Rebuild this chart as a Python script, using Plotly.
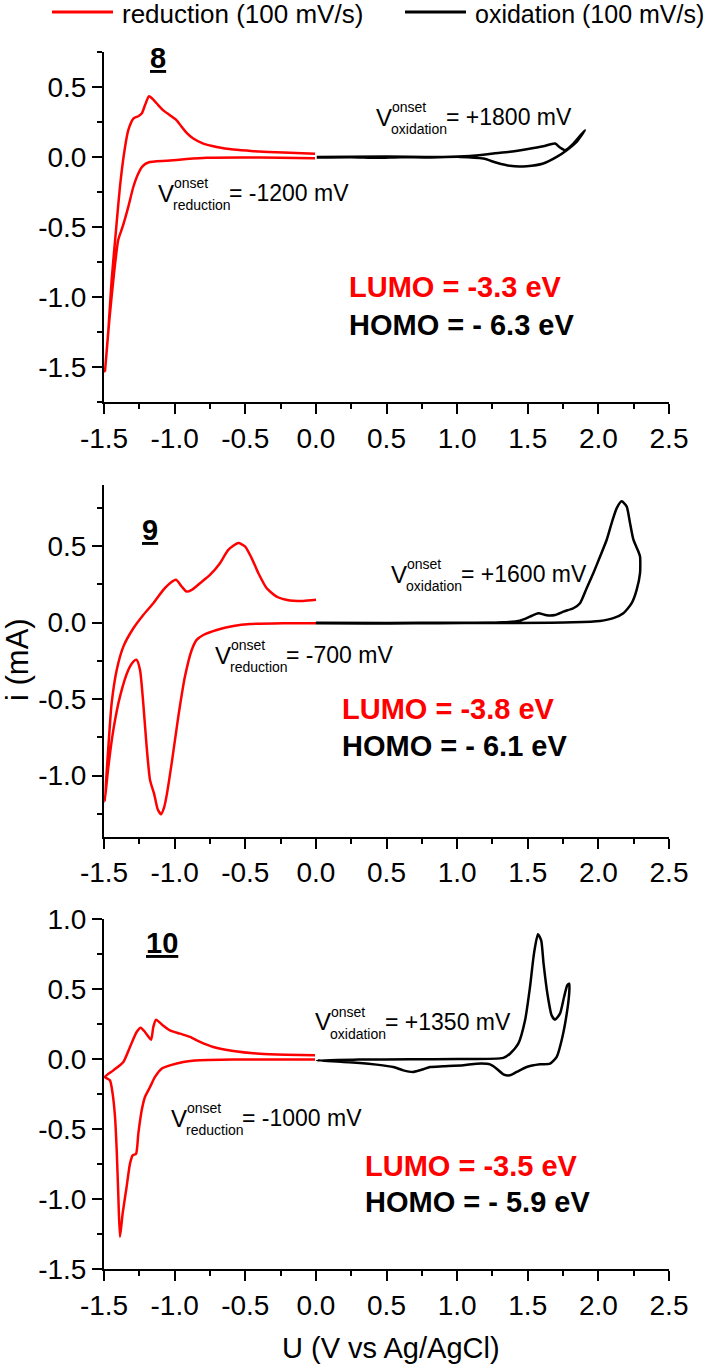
import plotly.graph_objects as go

W, H = 709, 1367
FONT = "Liberation Sans, Arial, sans-serif"

# ---- compound 8 ----
red8_u = [-0.006, -0.254, -0.537, -0.773, -0.915, -1.056, -1.186, -1.226, -1.257, -1.292, -1.328,
          -1.368, -1.399, -1.429, -1.462, -1.493,
          -1.469, -1.446, -1.415, -1.387, -1.358, -1.328, -1.292, -1.257, -1.233, -1.210, -1.181,
          -1.151, -1.115, -1.080, -1.033, -0.986, -0.950, -0.915, -0.868, -0.797, -0.702, -0.584,
          -0.443, -0.230, -0.006]
red8_i = [-0.009, -0.007, -0.004, -0.007, -0.016, -0.028, -0.040, -0.066, -0.118, -0.213, -0.356,
          -0.498, -0.591, -0.830, -1.162, -1.530,
          -1.233, -0.878, -0.522, -0.213, 0.024, 0.190, 0.273, 0.290, 0.309, 0.368, 0.432,
          0.408, 0.368, 0.332, 0.297, 0.261, 0.214, 0.171, 0.131, 0.095, 0.071, 0.052,
          0.041, 0.031, 0.022]
ox8_u = [0.006, 0.25, 0.43, 0.60, 0.784, 1.020, 1.186, 1.280, 1.374, 1.492, 1.610, 1.705, 1.776,
         1.846, 1.905, 1.823, 1.764, 1.728, 1.693, 1.610, 1.492, 1.374, 1.256, 1.091, 0.902,
         0.50, 0.006]
ox8_i = [-0.004, -0.002, -0.006, -0.002, -0.004, 0.000, -0.012, -0.042, -0.064, -0.066, -0.047,
         0.000, 0.048, 0.107, 0.190, 0.095, 0.048, 0.067, 0.095, 0.076, 0.055, 0.036, 0.024,
         0.007, 0.000, 0.002, 0.000]

# ---- compound 9 ----
red9_u = [0.001, -0.230, -0.466, -0.584, -0.702, -0.797, -0.844, -0.879, -0.927, -0.974, -1.021,
          -1.056, -1.075, -1.096, -1.120, -1.145, -1.174, -1.198, -1.222, -1.245, -1.269, -1.292,
          -1.328, -1.387, -1.434, -1.470, -1.495,
          -1.469, -1.446, -1.410, -1.363, -1.292, -1.222, -1.151, -1.080, -1.033, -0.990, -0.950,
          -0.915, -0.879, -0.820, -0.750, -0.679, -0.620, -0.549, -0.502, -0.455, -0.407, -0.348,
          -0.278, -0.183, -0.089, 0.001]
red9_i = [-0.004, -0.004, -0.009, -0.022, -0.048, -0.081, -0.113, -0.179, -0.353, -0.615, -0.921,
          -1.128, -1.210, -1.253, -1.220, -1.120, -1.030, -0.812, -0.528, -0.310, -0.244, -0.255,
          -0.310, -0.484, -0.703, -0.950, -1.170,
          -0.812, -0.528, -0.310, -0.157, -0.037, 0.050, 0.127, 0.214, 0.258, 0.280, 0.236,
          0.203, 0.214, 0.258, 0.312, 0.389, 0.476, 0.520, 0.498, 0.422, 0.323, 0.225,
          0.170, 0.144, 0.142, 0.149]
ox9_u = [0.0, 0.35, 0.70, 1.05, 1.30, 1.445, 1.516, 1.575, 1.634, 1.693, 1.752, 1.823, 1.870,
         1.917, 1.964, 2.012, 2.059, 2.094, 2.130, 2.165, 2.200, 2.224, 2.248, 2.283, 2.295,
         2.295, 2.271, 2.236, 2.177, 2.106, 2.012, 1.823, 1.40, 1.00, 0.50, 0.0]
ox9_i = [-0.004, -0.006, -0.004, -0.003, 0.000, 0.013, 0.039, 0.061, 0.048, 0.050, 0.072, 0.094,
         0.127, 0.225, 0.323, 0.432, 0.542, 0.651, 0.749, 0.793, 0.760, 0.651, 0.542, 0.465,
         0.432, 0.323, 0.214, 0.127, 0.061, 0.029, 0.011, 0.002, -0.002, -0.001, -0.002, -0.001]

# ---- compound 10 ----
red10_u = [-0.006, -0.584, -0.820, -0.938, -1.033, -1.092, -1.139, -1.174, -1.210, -1.233, -1.257,
           -1.273, -1.297, -1.316, -1.340, -1.368, -1.387, -1.399, -1.410, -1.422, -1.439, -1.458,
           -1.493,
           -1.434, -1.363, -1.316, -1.269, -1.240, -1.210, -1.167, -1.151, -1.132, -1.092, -1.033,
           -0.962, -0.891, -0.820, -0.726, -0.584, -0.396, -0.207, -0.006]
red10_i = [-0.002, -0.002, -0.007, -0.019, -0.043, -0.067, -0.126, -0.198, -0.269, -0.364, -0.531,
           -0.674, -0.686, -0.745, -0.912, -1.102, -1.269, -0.960, -0.650, -0.412, -0.245, -0.150,
           -0.126,
           -0.079, -0.019, 0.088, 0.195, 0.226, 0.195, 0.140, 0.231, 0.283, 0.250, 0.207,
           0.183, 0.160, 0.124, 0.088, 0.060, 0.040, 0.033, 0.029]
ox10_u = [0.006, 0.30, 0.666, 1.00, 1.327, 1.374, 1.433, 1.481, 1.516, 1.544, 1.572, 1.595, 1.612,
          1.639, 1.669, 1.693, 1.728, 1.757, 1.780, 1.794, 1.794, 1.776, 1.740, 1.705, 1.658,
          1.587, 1.492, 1.422, 1.374, 1.327, 1.280, 1.233, 1.138, 1.044, 0.902, 0.808, 0.761,
          0.690, 0.619, 0.548, 0.430, 0.312, 0.194, 0.006]
ox10_i = [-0.007, -0.002, 0.000, 0.002, 0.010, 0.040, 0.112, 0.279, 0.517, 0.755, 0.893, 0.850,
          0.683, 0.469, 0.314, 0.283, 0.326, 0.445, 0.529, 0.540, 0.481, 0.326, 0.136, 0.017,
          -0.031, -0.036, -0.055, -0.090, -0.114, -0.107, -0.067, -0.036, -0.031, -0.043, -0.050,
          -0.055, -0.071, -0.090, -0.079, -0.055, -0.038, -0.026, -0.019, -0.007]

u_ticks = [-1.5, -1.0, -0.5, 0.0, 0.5, 1.0, 1.5, 2.0, 2.5]
i_ticks = [[-1.5, -1.0, -0.5, 0.0, 0.5],
           [-1.0, -0.5, 0.0, 0.5],
           [-1.5, -1.0, -0.5, 0.0, 0.5, 1.0]]
i_ranges = [[-1.75, 0.75], [-1.4, 0.9], [-1.5, 1.0]]
compounds = ["8", "9", "10"]
lumo = ["-3.3", "-3.8", "-3.5"]
homo = ["- 6.3", "- 6.1", "- 5.9"]
v_red = ["-1200", "-700", "-1000"]
v_ox = ["+1800", "+1600", "+1350"]

red_u = [red8_u, red9_u, red10_u]
red_i = [red8_i, red9_i, red10_i]
ox_u = [ox8_u, ox9_u, ox10_u]
ox_i = [ox8_i, ox9_i, ox10_i]

# panel placement in pixels: (top, bottom) of plot area
panel_px = [(51.7, 402.3), (485.0, 836.7), (919.3, 1269.3)]
x_px = (104, 669)
# text anchors in pixels
lab_px = [(158, 58), (150, 530), (162, 943)]
ox_px = [(374, 117), (389, 574), (313, 1022)]
red_px = [(156, 193), (213, 655), (169, 1118)]
lumo_px = [(347, 287), (340, 709), (363, 1166)]
homo_px = [(347, 325), (340, 746), (363, 1202)]


def px(x):
    return x / W


def py(y):
    return 1 - y / H


fig = go.Figure()


def note(text, x, y, size, color="black", xanchor="left"):
    fig.add_annotation(text=text, x=px(x), y=py(y), xref="paper", yref="paper",
                       xanchor=xanchor, yanchor="middle", showarrow=False,
                       font=dict(family=FONT, size=size, color=color))


def vlabel(x, y, sub, value):
    note("V", x, y, 24)
    note("onset", x + 16, y - 10, 14)
    note(sub, x + 15, y + 12, 14)
    note("= " + value + " mV", x + 15 + (56 if sub == "reduction" else 55), y, 23)


for k in range(3):
    sfx = "" if k == 0 else str(k + 1)
    fig.add_trace(go.Scatter(x=red_u[k], y=red_i[k], mode="lines", showlegend=False,
                             line=dict(color="#ff0000", width=2.5, shape="spline", smoothing=0.6),
                             xaxis="x" + sfx, yaxis="y" + sfx))
    fig.add_trace(go.Scatter(x=ox_u[k], y=ox_i[k], mode="lines", showlegend=False,
                             line=dict(color="black", width=2.5, shape="spline", smoothing=0.6),
                             xaxis="x" + sfx, yaxis="y" + sfx))
    top, bot = panel_px[k]
    axis_common = dict(showline=True, linecolor="black", linewidth=2, showgrid=False,
                       zeroline=False, ticks="outside", ticklen=10, tickwidth=2,
                       tickcolor="black", automargin=False,
                       tickfont=dict(family=FONT, size=28, color="black"))
    fig.layout["xaxis" + sfx] = dict(
        domain=[px(x_px[0]), px(x_px[1])], range=[-1.5, 2.5], anchor="y" + sfx,
        tickvals=u_ticks, ticktext=[f"{v:.1f}" for v in u_ticks],
        minor=dict(dtick=0.25, tick0=0, ticks="outside", ticklen=5, tickwidth=2,
                   tickcolor="black"),
        **axis_common)
    fig.layout["yaxis" + sfx] = dict(
        domain=[py(bot), py(top)], range=i_ranges[k], anchor="x" + sfx,
        tickvals=i_ticks[k], ticktext=[f"{v:.1f}" for v in i_ticks[k]],
        minor=dict(dtick=0.25, tick0=0, ticks="outside", ticklen=5, tickwidth=2,
                   tickcolor="black"),
        **axis_common)

    note("<b><u>" + compounds[k] + "</u></b>", lab_px[k][0], lab_px[k][1], 29, xanchor="center")
    vlabel(ox_px[k][0], ox_px[k][1], "oxidation", v_ox[k])
    vlabel(red_px[k][0], red_px[k][1], "reduction", v_red[k])
    note("<b>LUMO = " + lumo[k] + " eV</b>", lumo_px[k][0], lumo_px[k][1], 29, color="#ff0000")
    note("<b>HOMO = " + homo[k] + " eV</b>", homo_px[k][0], homo_px[k][1], 29)

# axis titles
fig.add_annotation(text="i (mA)", x=px(17), y=py(660), xref="paper", yref="paper",
                   textangle=-90, showarrow=False, xanchor="center", yanchor="middle",
                   font=dict(family=FONT, size=31, color="black"))
note("U (V vs Ag/AgCl)", 391, 1348, 29, xanchor="center")

# legend drawn at top
fig.add_shape(type="line", xref="paper", yref="paper", x0=px(52), x1=px(113),
              y0=py(12), y1=py(12), line=dict(color="#ff0000", width=3))
fig.add_shape(type="line", xref="paper", yref="paper", x0=px(405), x1=px(466),
              y0=py(12), y1=py(12), line=dict(color="black", width=3))
note("reduction (100 mV/s)", 120, 14, 26)
note("oxidation (100 mV/s)", 473, 14, 25)

fig.update_layout(width=W, height=H, autosize=False,
                  margin=dict(l=0, r=0, t=0, b=0, autoexpand=False),
                  paper_bgcolor="white", plot_bgcolor="white",
                  font=dict(family=FONT, color="black"))

fig.write_html("out.html", config={"displayModeBar": False},
               post_script="document.body.style.margin='0px';document.body.style.overflow='hidden';")
